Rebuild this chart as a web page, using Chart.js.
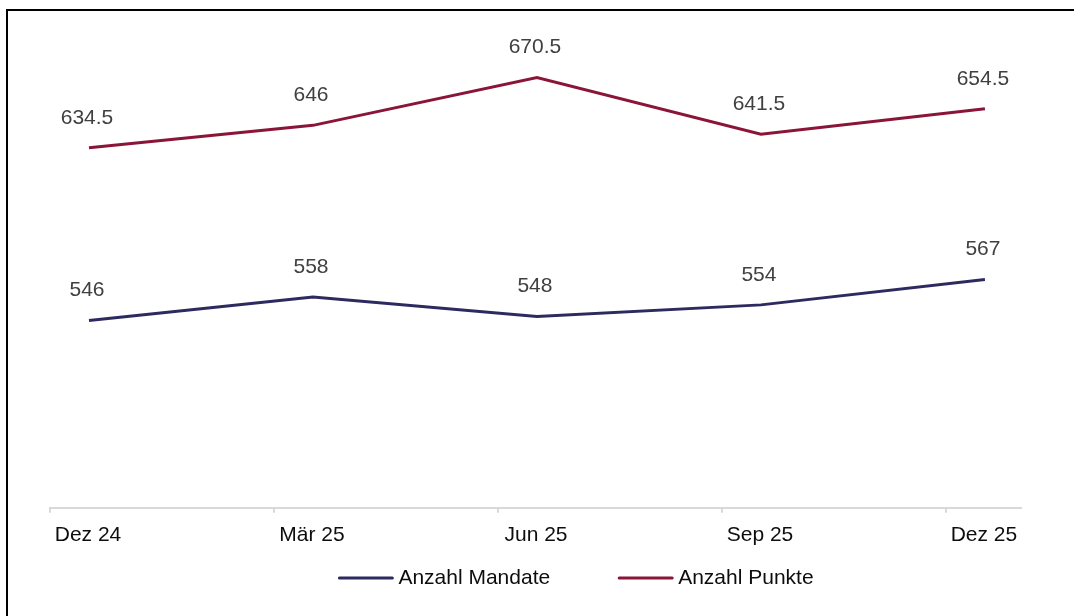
<!DOCTYPE html>
<html>
<head>
<meta charset="utf-8">
<script src="https://cdn.jsdelivr.net/npm/chart.js@4/dist/chart.umd.min.js"></script>
<style>
    html, body { margin: 0; padding: 0; background: #fff; overflow: hidden; }
    .frame { position: absolute; left: 6px; top: 9px; width: 2000px; height: 2000px; border: 2px solid #000; }
    .wrap { position: absolute; left: 0; top: 0; width: 1074px; height: 616px; }
</style>
</head>
<body>
<div class="frame"></div>
<div class="wrap"><canvas id="lineChart" width="1074" height="616"></canvas></div>
<script>
    "use strict";

    var categories = ['Dez 24', 'Mär 25', 'Jun 25', 'Sep 25', 'Dez 25'];
    var mandate = [546, 558, 548, 554, 567];
    var punkte = [634.5, 646, 670.5, 641.5, 654.5];

    var FONT = '"Liberation Sans", Arial, sans-serif';
    // axis ticks sit a bit left of each category, like the office chart
    var tickShift = 0.174;

    function toPoints(values) {
        return values.map(function (v, i) { return { x: i, y: v }; });
    }

    // value above every point
    var valueLabels = {
        id: 'valueLabels',
        afterDatasetsDraw: function (chart) {
            var ctx = chart.ctx;
            ctx.save();
            ctx.font = '21px ' + FONT;
            ctx.fillStyle = '#404040';
            ctx.textAlign = 'center';
            ctx.textBaseline = 'middle';
            chart.data.datasets.forEach(function (ds, di) {
                chart.getDatasetMeta(di).data.forEach(function (pt, i) {
                    ctx.fillText(String(ds.data[i].y), pt.x - 2, pt.y - 30);
                });
            });
            ctx.restore();
        }
    };

    // simple legend: line sample + label, centred under the plot
    var lineLegend = {
        id: 'lineLegend',
        afterDraw: function (chart, args, opts) {
            var ctx = chart.ctx;
            ctx.save();
            ctx.font = '21px ' + FONT;
            var items = chart.data.datasets.map(function (ds) {
                return { ds: ds, w: opts.sample + opts.textGap + ctx.measureText(ds.label).width };
            });
            var total = items.reduce(function (s, it) { return s + it.w; }, 0) + opts.itemGap * (items.length - 1);
            var x = opts.centerX - total / 2;
            items.forEach(function (it) {
                ctx.strokeStyle = it.ds.borderColor;
                ctx.lineWidth = 3;
                ctx.lineCap = 'round';
                ctx.beginPath();
                ctx.moveTo(x + 1, opts.y);
                ctx.lineTo(x + opts.sample - 1, opts.y);
                ctx.stroke();
                ctx.fillStyle = '#0d0d0d';
                ctx.textBaseline = 'middle';
                ctx.fillText(it.ds.label, x + opts.sample + opts.textGap, opts.y);
                x += it.w + opts.itemGap;
            });
            ctx.restore();
        }
    };

    var ctx = document.getElementById('lineChart').getContext('2d');
    var chart = new Chart(ctx, {
        type: 'line',
        data: {
            datasets: [{
                label: 'Anzahl Mandate',
                data: toPoints(mandate),
                borderColor: '#2d2a60',
                borderWidth: 3,
                pointRadius: 0,
                tension: 0
            },
            {
                label: 'Anzahl Punkte',
                data: toPoints(punkte),
                borderColor: '#8a1538',
                borderWidth: 3,
                pointRadius: 0,
                tension: 0
            }]
        },
        options: {
            responsive: false,
            animation: false,
            layout: {
                padding: { left: 50, right: 53, top: 20, bottom: 58 }
            },
            scales: {
                x: {
                    type: 'linear',
                    min: -tickShift,
                    max: 4.161,
                    afterBuildTicks: function (axis) {
                        axis.ticks = categories.map(function (c, i) { return { value: i - tickShift }; });
                    },
                    grid: {
                        drawOnChartArea: false,
                        tickLength: 5,
                        color: '#d9d9d9',
                        lineWidth: 2
                    },
                    border: { color: '#d9d9d9', width: 2 },
                    ticks: {
                        autoSkip: false,
                        maxRotation: 0,
                        padding: 10,
                        labelOffset: 38,
                        color: '#0d0d0d',
                        font: { family: FONT, size: 21 },
                        callback: function (value, index) { return categories[index]; }
                    }
                },
                y: {
                    display: false,
                    min: 450,
                    max: 700
                }
            },
            plugins: {
                legend: { display: false },
                tooltip: { enabled: false },
                lineLegend: { centerX: 576, y: 578, sample: 55, textGap: 5, itemGap: 68 }
            }
        },
        plugins: [valueLabels, lineLegend]
    });
</script>
</body>
</html>
